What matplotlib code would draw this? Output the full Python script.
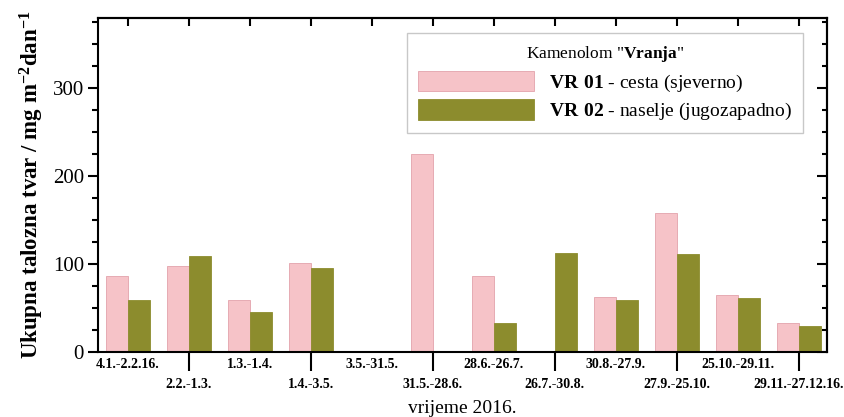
import numpy as np
import matplotlib
matplotlib.use('Agg')
import matplotlib.pyplot as plt
from matplotlib.ticker import MultipleLocator, FixedLocator

plt.rcParams['font.family'] = ['Liberation Serif', 'DejaVu Serif']
plt.rcParams['mathtext.fontset'] = 'custom'
plt.rcParams['mathtext.rm'] = 'Liberation Serif'
plt.rcParams['mathtext.bf'] = 'Liberation Serif:bold'
plt.rcParams['mathtext.default'] = 'regular'

periods = ['4.1.-2.2.16.', '2.2.-1.3.', '1.3.-1.4.', '1.4.-3.5.', '3.5.-31.5.',
           '31.5.-28.6.', '28.6.-26.7.', '26.7.-30.8.', '30.8.-27.9.',
           '27.9.-25.10.', '25.10.-29.11.', '29.11.-27.12.16.']
vr01 = [87, 98, 59, 101, np.nan, 225, 86, np.nan, 62, 158, 65, 33]
vr02 = [59, 109, 45, 95, np.nan, np.nan, 33, 113, 59, 112, 61, 30]

pink = '#f6c3c8'
olive = '#8c8c2d'

fig = plt.figure(figsize=(8.44, 4.17), dpi=100)
ax = fig.add_axes([0.1161, 0.1559, 0.8637, 0.8009])

x = np.arange(1, len(periods) + 1)
w = 0.36
ax.bar(x - w / 2, vr01, w, color=pink, edgecolor='#e3a3ab', linewidth=0.6,
       label=r'$\bf{VR\ 01}$ - cesta (sjeverno)')
ax.bar(x + w / 2, vr02, w, color=olive, edgecolor=olive, linewidth=0.6,
       label=r'$\bf{VR\ 02}$ - naselje (jugozapadno)')

ax.set_xlim(0.51, 12.46)
ax.set_ylim(0, 380)

for s in ax.spines.values():
    s.set_linewidth(1.5)

# x: odd periods on first row (minor), even periods on second row with long ticks
ax.xaxis.set_major_locator(FixedLocator(x[1::2]))
ax.xaxis.set_minor_locator(FixedLocator(x[0::2]))
ax.set_xticklabels(periods[1::2])
ax.set_xticklabels(periods[0::2], minor=True)
ax.tick_params(axis='x', which='major', direction='out', length=14, width=1.5,
               pad=5, labelsize=10)
ax.tick_params(axis='x', which='minor', length=0, pad=4, labelsize=10)
for t in ax.get_xticklabels(which='both'):
    t.set_fontweight('bold')

# y: outward on the left
ax.yaxis.set_major_locator(MultipleLocator(100))
ax.yaxis.set_minor_locator(MultipleLocator(25))
ax.tick_params(axis='y', which='major', direction='out', length=7, width=1.5,
               pad=3, labelsize=15)
ax.tick_params(axis='y', which='minor', direction='out', length=4, width=1.5)

# inward ticks on top and right
top = ax.secondary_xaxis('top')
top.set_xticks(x)
top.tick_params(direction='in', length=6, width=1.5, labeltop=False)
top.spines['top'].set_linewidth(1.5)
right = ax.secondary_yaxis('right')
right.yaxis.set_major_locator(MultipleLocator(100))
right.yaxis.set_minor_locator(MultipleLocator(25))
right.tick_params(which='major', direction='in', length=7, width=1.5, labelright=False)
right.tick_params(which='minor', direction='in', length=3.5, width=1.5)
right.spines['right'].set_linewidth(1.5)

ax.set_ylabel(r'Ukupna talozna tvar / mg m$^{-2}$dan$^{-1}$', fontsize=16.5,
              fontweight='bold', labelpad=5)
ax.set_xlabel('vrijeme 2016.', fontsize=14, labelpad=6)

leg = ax.legend(loc='upper right', bbox_to_anchor=(0.967, 0.955), borderaxespad=0,
                title=r'Kamenolom "$\bf{Vranja}$"', title_fontsize=12.5, fontsize=14,
                handlelength=6.0, handleheight=1.25, handletextpad=0.75,
                labelspacing=0.3, borderpad=0.55, fancybox=False, framealpha=1)
leg.get_frame().set_edgecolor('#c8c8c8')
leg.get_frame().set_linewidth(1)
leg._legend_box.sep = 5

fig.savefig('out.png', dpi=100)
